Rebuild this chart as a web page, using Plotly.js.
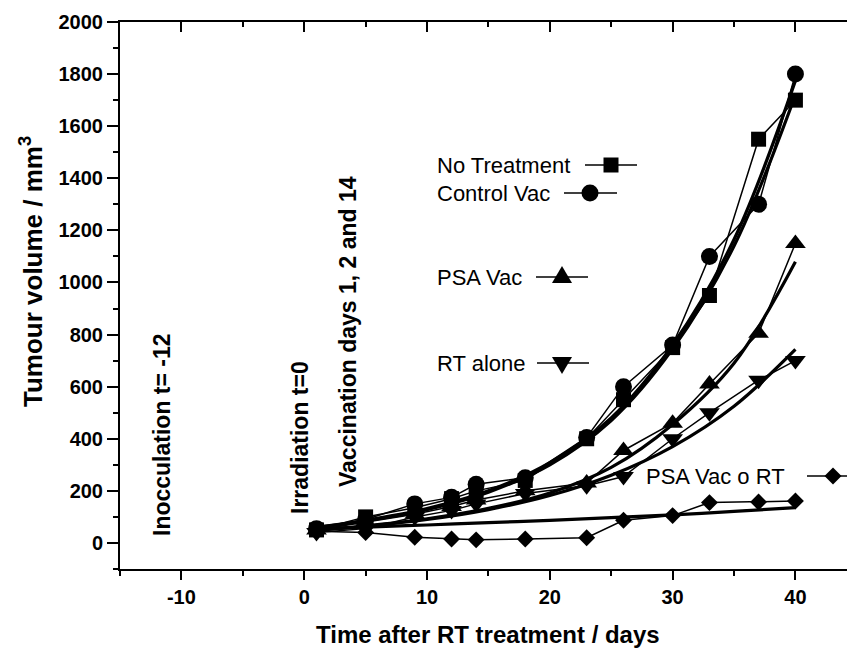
<!DOCTYPE html>
<html><head><meta charset="utf-8">
<script src="https://cdn.plot.ly/plotly-3.0.1.min.js"></script>
<style>html,body{margin:0;padding:0;background:#fff}#chart{width:847px;height:648px}</style>
</head><body><div id="chart"></div>
<script>
// ---- data ----
const days = [1, 5, 9, 12, 14, 18, 23, 26, 30, 33, 37, 40];
const noTreatment = [50, 100, 135, 170, 200, 240, 400, 550, 750, 950, 1550, 1700];
const controlVac  = [55, 90, 150, 175, 225, 250, 405, 600, 760, 1100, 1300, 1800];
const psaVac      = [50, 80, 110, 140, 165, 200, 230, 355, 460, 610, 805, 1150];
const rtAlone     = [40, 55, 100, 125, 150, 190, 220, 255, 400, 500, 625, 700];
const psaVacRT    = [45, 40, 22, 15, 12, 15, 20, 87, 105, 155, 157, 161];

const fitDays        = [1, 5, 10, 15, 20, 25, 30, 35, 40];
const fitNoTreatment = [60, 85, 128, 195, 300, 470, 745, 1140, 1720];
const fitControlVac  = [60, 87, 132, 200, 308, 480, 760, 1165, 1775];
const fitPsaVac      = [50, 66, 93, 133, 192, 290, 455, 690, 1080];
const fitRtAlone     = [48, 64, 90, 128, 182, 260, 370, 525, 743];
const fitPsaVacRT    = [55, 61, 69, 78, 87, 97, 108, 121, 136];

const seriesNames = ['No Treatment', 'Control Vac', 'PSA Vac', 'RT alone', 'PSA Vac o RT'];
const eventLabels = ['Inocculation t= -12', 'Irradiation t=0', 'Vaccination days 1, 2 and 14'];
const xTickVals = [-10, 0, 10, 20, 30, 40];
const xTickText = ['-10', '0', '10', '20', '30', '40'];
const xTitle = 'Time after RT treatment / days';
const yTitle = 'Tumour volume / mm<sup>3</sup>';

// ---- styling / layout ----
const FONT = 'Liberation Sans, Arial, Helvetica, sans-serif';
const symbols = ['square', 'circle', 'triangle-up', 'triangle-down', 'diamond'];
const msizes = [15, 17, 18, 18, 13];
const dataSets = [noTreatment, controlVac, psaVac, rtAlone, psaVacRT];
const fitSets = [fitNoTreatment, fitControlVac, fitPsaVac, fitRtAlone, fitPsaVacRT];

const traces = [];
dataSets.forEach((ys, i) => {
  traces.push({
    x: days, y: ys, name: seriesNames[i], type: 'scatter', mode: 'lines+markers',
    line: {color: '#000', width: 1.5},
    marker: {symbol: symbols[i], size: msizes[i], color: '#000'},
    showlegend: false
  });
});
fitSets.forEach((ys, i) => {
  traces.push({
    x: fitDays, y: ys, name: seriesNames[i] + ' fit', type: 'scatter', mode: 'lines',
    line: {color: '#000', width: 3.2, shape: 'spline', smoothing: 1},
    showlegend: false
  });
});
traces.push({x: [], y: [], xaxis: 'x2', yaxis: 'y', showlegend: false, type: 'scatter'});

const L = 120, R = 847, T = 22, B = 569;
const PX = px => (px - L) / (R - L);
const PY = py => (B - py) / (B - T);

const legendPos = [
  {textX: 435, y: 165, x0: 585, x1: 637, mx: 611},
  {textX: 435, y: 193, x0: 564, x1: 617, mx: 590},
  {textX: 435, y: 277, x0: 536, x1: 588, mx: 562},
  {textX: 435, y: 363, x0: 537, x1: 589, mx: 562},
  {textX: 644, y: 476, x0: 807, x1: 870, mx: 833}
];
const markerPaths = [
  null, null,
  'M -10,-6 L 10,-6 L 0,11 Z',
  'M -10,6 L 10,6 L 0,-11 Z',
  'M -8.5,0 L 0,8.5 L 8.5,0 L 0,-8.5 Z'
];

const annotations = [];
const shapes = [];
legendPos.forEach((p, i) => {
  annotations.push({xref: 'paper', yref: 'paper', x: PX(p.textX), y: PY(p.y), xanchor: 'left', yanchor: 'middle',
    text: seriesNames[i], showarrow: false, font: {family: FONT, size: 22, color: '#000'}});
  shapes.push({type: 'line', xref: 'paper', yref: 'paper', x0: PX(p.x0), x1: PX(p.x1), y0: PY(p.y), y1: PY(p.y),
    line: {color: '#000', width: 1.5}});
  const base = {xref: 'paper', yref: 'paper', xsizemode: 'pixel', ysizemode: 'pixel',
    xanchor: PX(p.mx), yanchor: PY(p.y), fillcolor: '#000', line: {color: '#000', width: 0}};
  if (i === 0) shapes.push(Object.assign({type: 'rect', x0: -7.5, x1: 7.5, y0: -7.5, y1: 7.5}, base));
  else if (i === 1) shapes.push(Object.assign({type: 'circle', x0: -8.5, x1: 8.5, y0: -8.5, y1: 8.5}, base));
  else shapes.push(Object.assign({type: 'path', path: markerPaths[i]}, base));
});

const eventPos = [{x: 162, y: 435}, {x: 300, y: 438}, {x: 348, y: 332}];
eventPos.forEach((p, i) => {
  annotations.push({xref: 'paper', yref: 'paper', x: PX(p.x), y: PY(p.y), xanchor: 'center', yanchor: 'middle',
    text: eventLabels[i], textangle: -90, showarrow: false,
    font: {family: FONT, size: 23, color: '#000', weight: 'bold'}});
});
annotations.push({xref: 'paper', yref: 'paper', x: PX(488), y: PY(634), xanchor: 'center', yanchor: 'middle',
  text: xTitle, showarrow: false, font: {family: FONT, size: 24, color: '#000', weight: 'bold'}});
annotations.push({xref: 'paper', yref: 'paper', x: PX(31), y: PY(272), xanchor: 'center', yanchor: 'middle',
  text: yTitle, textangle: -90, showarrow: false, font: {family: FONT, size: 26, color: '#000', weight: 'bold'}});

const tickFont = {family: FONT, size: 20, color: '#000', weight: 'bold'};
const xRange = [-15, 44.2];
const layout = {
  width: 847, height: 648,
  margin: {l: L, r: 847 - R, t: T, b: 648 - B, pad: 0},
  paper_bgcolor: '#fff', plot_bgcolor: '#fff',
  showlegend: false,
  font: {family: FONT, color: '#000'},
  xaxis: {range: xRange, tickmode: 'array', tickvals: xTickVals, ticktext: xTickText,
    ticks: 'outside', ticklen: 9, tickwidth: 2, tickcolor: '#000',
    minor: {dtick: 5, tick0: 0, ticks: 'outside', ticklen: 5, tickwidth: 2, tickcolor: '#000'},
    showline: true, linewidth: 2, linecolor: '#000', showgrid: false, zeroline: false,
    tickfont: tickFont},
  xaxis2: {range: xRange, overlaying: 'x', side: 'top', anchor: 'y', tick0: 0, dtick: 10,
    ticks: 'inside', ticklen: 10, tickwidth: 2, tickcolor: '#000',
    minor: {dtick: 5, tick0: 0, ticks: 'inside', ticklen: 5, tickwidth: 2, tickcolor: '#000'},
    showticklabels: false, showline: true, linewidth: 2, linecolor: '#000', showgrid: false, zeroline: false},
  yaxis: {range: [-100, 2000], tick0: 0, dtick: 200, ticks: 'outside', ticklen: 11, tickwidth: 2, tickcolor: '#000',
    minor: {dtick: 100, tick0: 0, ticks: 'outside', ticklen: 5, tickwidth: 2, tickcolor: '#000'},
    showline: true, linewidth: 2, linecolor: '#000', showgrid: false, zeroline: false,
    tickfont: tickFont},
  annotations: annotations,
  shapes: shapes
};
Plotly.newPlot('chart', traces, layout, {displayModeBar: false, staticPlot: true});
</script>
</body></html>
